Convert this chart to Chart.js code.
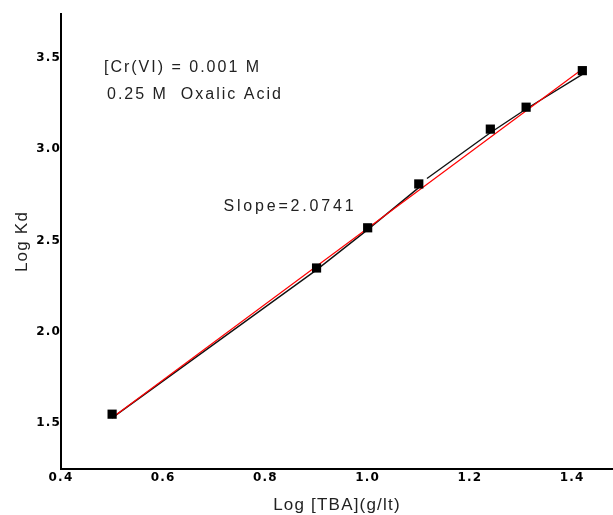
<!DOCTYPE html>
<html>
<head>
<meta charset="utf-8">
<script src="https://cdn.jsdelivr.net/npm/chart.js@4/dist/chart.umd.min.js"></script>
<style>
  html, body { margin: 0; padding: 0; background: #fff; overflow: hidden; }
</style>
</head>
<body>
<canvas id="kdChart" width="613" height="515"></canvas>
<script>
// measured points
const logTBA = [0.50, 0.90, 1.00, 1.10, 1.24, 1.31, 1.42];
const logKd = [1.55, 2.35, 2.57, 2.81, 3.11, 3.23, 3.43];

// black trace (has a small break just after 1.1)
const blackX = [0.50, 0.90, 1.00, 1.10, 1.105, 1.116, 1.24, 1.31, 1.42];
const blackY = [1.53, 2.34, 2.56, 2.79, null, 2.84, 3.09, 3.22, 3.41];

// red linear fit
const fitX = [0.50, 1.415];
const fitY = [1.53, 3.428];

const xTicks = [0.4, 0.6, 0.8, 1.0, 1.2, 1.4];
const yTicks = [1.5, 2.0, 2.5, 3.0, 3.5];

const notes = [
    { text: '[Cr(VI) = 0.001 M', x: 0.484, y: 3.445, spacing: '2px' },
    { text: '0.25 M  Oxalic Acid', x: 0.49, y: 3.30, spacing: '2px' },
    { text: 'Slope=2.0741', x: 0.718, y: 2.687, spacing: '2.8px' }
];

function pairs(xs, ys) {
    return xs.map((x, i) => ({ x: x, y: ys[i] }));
}

// wider letter spacing for axis text, like the original
const spacingPlugin = {
    id: 'spacing',
    beforeUpdate(chart) { chart.ctx.letterSpacing = '1.2px'; },
    beforeDraw(chart) { chart.ctx.letterSpacing = '1.2px'; }
};

const notesPlugin = {
    id: 'notes',
    afterDatasetsDraw(chart) {
        const ctx = chart.ctx;
        const xs = chart.scales.x, ys = chart.scales.y;
        ctx.save();
        ctx.font = '16px "Liberation Sans", Arial, sans-serif';
        ctx.fillStyle = '#222';
        ctx.textAlign = 'left';
        ctx.textBaseline = 'middle';
        notes.forEach(n => {
            ctx.letterSpacing = n.spacing;
            ctx.fillText(n.text, xs.getPixelForValue(n.x), ys.getPixelForValue(n.y));
        });
        ctx.restore();
    }
};

new Chart(document.getElementById('kdChart'), {
    type: 'scatter',
    data: {
        datasets: [
            {
                label: 'data',
                data: pairs(logTBA, logKd),
                pointStyle: 'rect',
                pointRadius: 6.5,
                backgroundColor: '#000',
                borderColor: '#000',
                borderWidth: 0,
                showLine: false,
                order: 0
            },
            {
                label: 'fit',
                data: pairs(fitX, fitY),
                showLine: true,
                borderColor: '#ff0000',
                borderWidth: 1.2,
                pointRadius: 0,
                order: 1
            },
            {
                label: 'trace',
                data: pairs(blackX, blackY),
                showLine: true,
                spanGaps: false,
                borderColor: '#111',
                borderWidth: 1.4,
                pointRadius: 0,
                order: 2
            }
        ]
    },
    options: {
        responsive: false,
        animation: false,
        layout: { autoPadding: false, padding: { top: 14, right: 0, left: 0, bottom: 0 } },
        plugins: {
            legend: { display: false },
            tooltip: { enabled: false }
        },
        scales: {
            x: {
                type: 'linear',
                min: 0.4,
                max: 1.48,
                afterBuildTicks: s => { s.ticks = xTicks.map(v => ({ value: v })); },
                afterFit: s => { s.height = 46; s.paddingLeft = 0; s.paddingRight = 0; },
                grid: { display: false, drawTicks: false },
                border: { display: true, color: '#000', width: 2 },
                ticks: {
                    padding: 2,
                    color: '#000',
                    font: { family: '"DejaVu Sans", sans-serif', size: 12, weight: 'bold' },
                    callback: v => v.toFixed(1)
                },
                title: {
                    display: true,
                    text: 'Log [TBA](g/lt)',
                    color: '#222',
                    font: { family: '"Liberation Sans", Arial, sans-serif', size: 17 },
                    padding: { top: 0, bottom: -1 }
                }
            },
            y: {
                type: 'linear',
                min: 1.25,
                max: 3.74,
                afterBuildTicks: s => { s.ticks = yTicks.map(v => ({ value: v })); },
                afterFit: s => { s.width = 61; s.paddingTop = 0; s.paddingBottom = 0; },
                grid: { display: false, drawTicks: false },
                border: { display: true, color: '#000', width: 2 },
                ticks: {
                    padding: 0,
                    color: '#000',
                    font: { family: '"DejaVu Sans", sans-serif', size: 12, weight: 'bold' },
                    callback: v => v.toFixed(1)
                },
                title: {
                    display: true,
                    text: 'Log Kd',
                    color: '#222',
                    font: { family: '"Liberation Sans", Arial, sans-serif', size: 17 },
                    padding: { top: 12, bottom: 0 }
                }
            }
        }
    },
    plugins: [spacingPlugin, notesPlugin]
});
</script>
</body>
</html>
